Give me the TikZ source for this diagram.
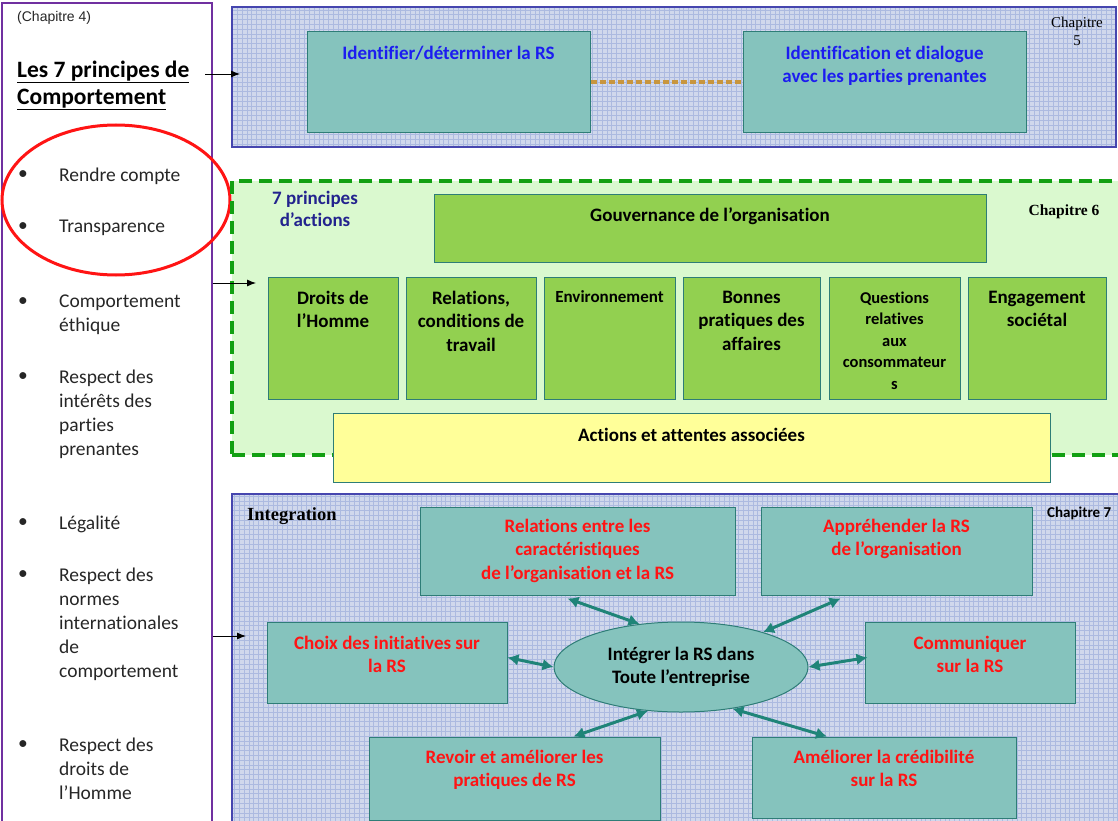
\documentclass[tikz,border=0pt]{standalone}
\usepackage{fontspec}
\setmainfont{Carlito}[Ligatures=NoCommon]
\newfontfamily\arialf{Liberation Sans}
\newfontfamily\timesf{Liberation Serif}
\usetikzlibrary{arrows.meta,positioning,shapes.geometric}

\definecolor{rsviolet}{RGB}{112,48,160}
\definecolor{rsbleupan}{RGB}{70,70,175}
\definecolor{rsgrille}{RGB}{208,216,236}
\definecolor{rsligne}{RGB}{172,186,224}
\definecolor{rssarc}{RGB}{133,195,189}
\definecolor{rssarcbord}{RGB}{46,125,119}
\definecolor{rsbleu}{RGB}{28,28,240}
\definecolor{rsrouge}{RGB}{255,20,20}
\definecolor{rsvertfond}{RGB}{218,249,207}
\definecolor{rsvert}{RGB}{18,160,18}
\definecolor{rsvertbox}{RGB}{146,208,80}
\definecolor{rsjaune}{RGB}{255,255,153}
\definecolor{rsmarine}{RGB}{35,35,142}
\definecolor{rsbrun}{RGB}{200,150,62}
\definecolor{rsfleche}{RGB}{31,132,120}
\definecolor{rsgris}{RGB}{38,38,38}

\begin{document}
\begin{tikzpicture}[x=1pt,y=-1pt,
  panneau/.style={draw=rsbleupan,line width=1.3pt,fill=rsgrille,inner sep=0pt,
    path picture={\draw[rsligne,line width=0.35pt] (path picture bounding box.south west) grid[step=4.8pt] (path picture bounding box.north east);}},
  boite/.style={draw=rssarcbord,line width=1pt,inner sep=0pt},
  sarc/.style={boite,fill=rssarc},
  vert/.style={boite,fill=rsvertbox},
  texte/.style={font=\bfseries\fontsize{19}{23.5}\selectfont,align=center,inner sep=0pt,anchor=north},
  rouge/.style={texte,text=rsrouge},
  puce/.style={font=\fontsize{19.5}{24}\selectfont,text=rsgris,inner sep=0pt},
  principe/.style={font=\fontsize{19.5}{24}\selectfont,text=rsgris,align=left,inner sep=0pt,anchor=north west},
  fleche/.style={-{Latex[length=9pt,width=7pt]},line width=0.9pt},
  lien/.style={<->,>={Latex[length=11pt,width=12pt]},rsfleche,line width=3pt}]
\useasboundingbox (0,0) rectangle (1118,821);

% chapitre 4 : principes de comportement
\node[draw=rsviolet,line width=1.2pt,minimum width=210pt,minimum height=840pt,inner sep=0pt] (gauche) at (107,423) {};
\node[font=\arialf\fontsize{14}{16}\selectfont,text=rsgris,anchor=west,inner sep=0pt] (chap4) at (17,18) {(Chapitre 4)};
\node[font=\bfseries\fontsize{23.5}{27}\selectfont,anchor=base west,inner sep=0pt] (titre1) at (17,77.5) {\underline{Les 7 principes de}};
\node[font=\bfseries\fontsize{23.5}{27}\selectfont,anchor=base west,inner sep=0pt] (titre2) at (17,104.5) {\underline{Comportement}};
\foreach \y/\txt [count=\i] in {175/Rendre compte,227/Transparence,302/{Comportement\\éthique},377/{Respect des\\intérêts des\\parties\\prenantes},523/Légalité,575/{Respect des\\normes\\internationales\\de\\comportement},745/{Respect des\\droits de\\l’Homme}}{
  \node[puce] (b\i) at (23,\y) {•};
  \node[principe] (p\i) at (59,\y-7.5) {\txt};
}
\draw[rsrouge,line width=3pt] (116,200) ellipse [x radius=114, y radius=75];

% chapitre 5
\node[panneau,minimum width=884pt,minimum height=140pt] (ch5) at (674,77) {};
\node[sarc,minimum width=283pt,minimum height=101pt] (id) at (448.5,82.5) {};
\node[sarc,minimum width=283pt,minimum height=101pt] (dial) at (884.5,82.5) {};
\draw[rsbrun,line width=4pt,dash pattern=on 6pt off 3pt] (id) -- (dial);
\node[texte,text=rsbleu,below=14pt of id.north] (t-id) {Identifier/déterminer la RS};
\node[texte,text=rsbleu,below=14pt of dial.north] (t-dial) {Identification et dialogue\\avec les parties prenantes};
\node[font=\timesf\fontsize{15}{18}\selectfont,align=center,inner sep=0pt] (c5) at (1077,31) {Chapitre\\5};
\coordinate (a5) at (205,74);
\coordinate (b5) at (240,74);
\draw[fleche] (a5) -- (b5);

% chapitre 6
\node[draw=rsvert,fill=rsvertfond,line width=3.5pt,dash pattern=on 13pt off 7pt,minimum width=893pt,minimum height=274pt,inner sep=0pt] (ch6) at (678.5,318) {};
\node[font=\bfseries\fontsize{19}{22}\selectfont,text=rsmarine,align=center,inner sep=0pt] (p7) at (315,209) {7 principes\\d’actions};
\node[vert,minimum width=552pt,minimum height=68pt] (gouv) at (710,228) {};
\node[texte,below=14pt of gouv.north] (t-gouv) {Gouvernance de l’organisation};
\node[font=\timesf\bfseries\fontsize{15.5}{18}\selectfont,inner sep=0pt] (c6) at (1064,212) {Chapitre 6};
\foreach \n/\x/\w in {droits/333/130,relat/471/130,envir/609.5/131,bonnes/751.5/137,consom/894.5/131,engag/1037/138}
  \node[vert,minimum width=\w pt,minimum height=122pt] (\n) at (\x,338) {};
\node[texte,below=14pt of droits.north] (t-droits) {Droits de\\l’Homme};
\node[texte,below=14pt of relat.north] (t-relat) {Relations,\\conditions de\\travail};
\node[texte,font=\bfseries\fontsize{17}{21}\selectfont,below=14pt of envir.north] (t-envir) {Environnement};
\node[texte,below=14pt of bonnes.north] (t-bonnes) {Bonnes\\pratiques des\\affaires};
\node[texte,font=\bfseries\fontsize{16.5}{21.5}\selectfont,below=15pt of consom.north] (t-consom) {Questions\\relatives\\aux\\consommateur\\s};
\node[texte,below=14pt of engag.north] (t-engag) {Engagement\\sociétal};
\node[boite,fill=rsjaune,minimum width=717pt,minimum height=69pt] (attentes) at (691.5,447.5) {};
\node[texte,below=15pt of attentes.north] (t-attentes) {Actions et attentes associées};
\coordinate (b6) at (256,283);
\draw[fleche] (gauche.east |- b6) -- (b6);

% chapitre 7
\node[panneau,minimum width=888pt,minimum height=340pt] (ch7) at (676,664) {};
\node[font=\timesf\bfseries\fontsize{18.5}{22}\selectfont,anchor=base west,inner sep=0pt] (integr) at (247,520) {Integration};
\node[font=\bfseries\fontsize{15}{18}\selectfont,anchor=base west,inner sep=0pt] (c7) at (1047,517) {Chapitre 7};
\node[sarc,minimum width=315pt,minimum height=88pt] (relor) at (577.5,551) {};
\node[sarc,minimum width=271pt,minimum height=88pt] (apprh) at (896.5,551) {};
\node[sarc,minimum width=240pt,minimum height=81pt] (choix) at (387,662.5) {};
\node[sarc,minimum width=210pt,minimum height=81pt] (commu) at (970,662.5) {};
\node[sarc,minimum width=291pt,minimum height=83pt] (revoir) at (514.5,778.5) {};
\node[sarc,minimum width=264pt,minimum height=81pt] (credib) at (884,777.5) {};
\node[boite,fill=rssarc,ellipse,minimum width=254pt,minimum height=90pt,font=\bfseries\fontsize{19}{23.5}\selectfont,align=center] (integ) at (681,667) {Intégrer la RS dans\\Toute l’entreprise};
\node[rouge,below=12pt of relor.north] (t-relor) {Relations entre les\\caractéristiques\\de l’organisation et la RS};
\node[rouge,below=12pt of apprh.north] (t-apprh) {Appréhender la RS\\de l’organisation};
\node[rouge,below=14pt of choix.north] (t-choix) {Choix des initiatives sur\\la RS};
\node[rouge,below=14pt of commu.north] (t-commu) {Communiquer\\sur la RS};
\node[rouge,below=13pt of revoir.north] (t-revoir) {Revoir et améliorer les\\pratiques de RS};
\node[rouge,below=13pt of credib.north] (t-credib) {Améliorer la crédibilité\\sur la RS};
\draw[lien] ([xshift=-10pt,yshift=-3pt]relor.south) -- (integ.134);
\draw[lien] ([xshift=-56pt,yshift=-3pt]apprh.south) -- (integ.23);
\draw[lien] ([yshift=5pt]choix.east) -- (integ.west);
\draw[lien] (integ.east) -- ([xshift=3pt,yshift=5pt]commu.west);
\draw[lien] ([xshift=59pt]revoir.north) -- (integ.233);
\draw[lien] (integ.321) -- ([xshift=-57pt]credib.north);
\coordinate (b7) at (246,636);
\draw[fleche] (gauche.east |- b7) -- (b7);
\end{tikzpicture}
\end{document}
